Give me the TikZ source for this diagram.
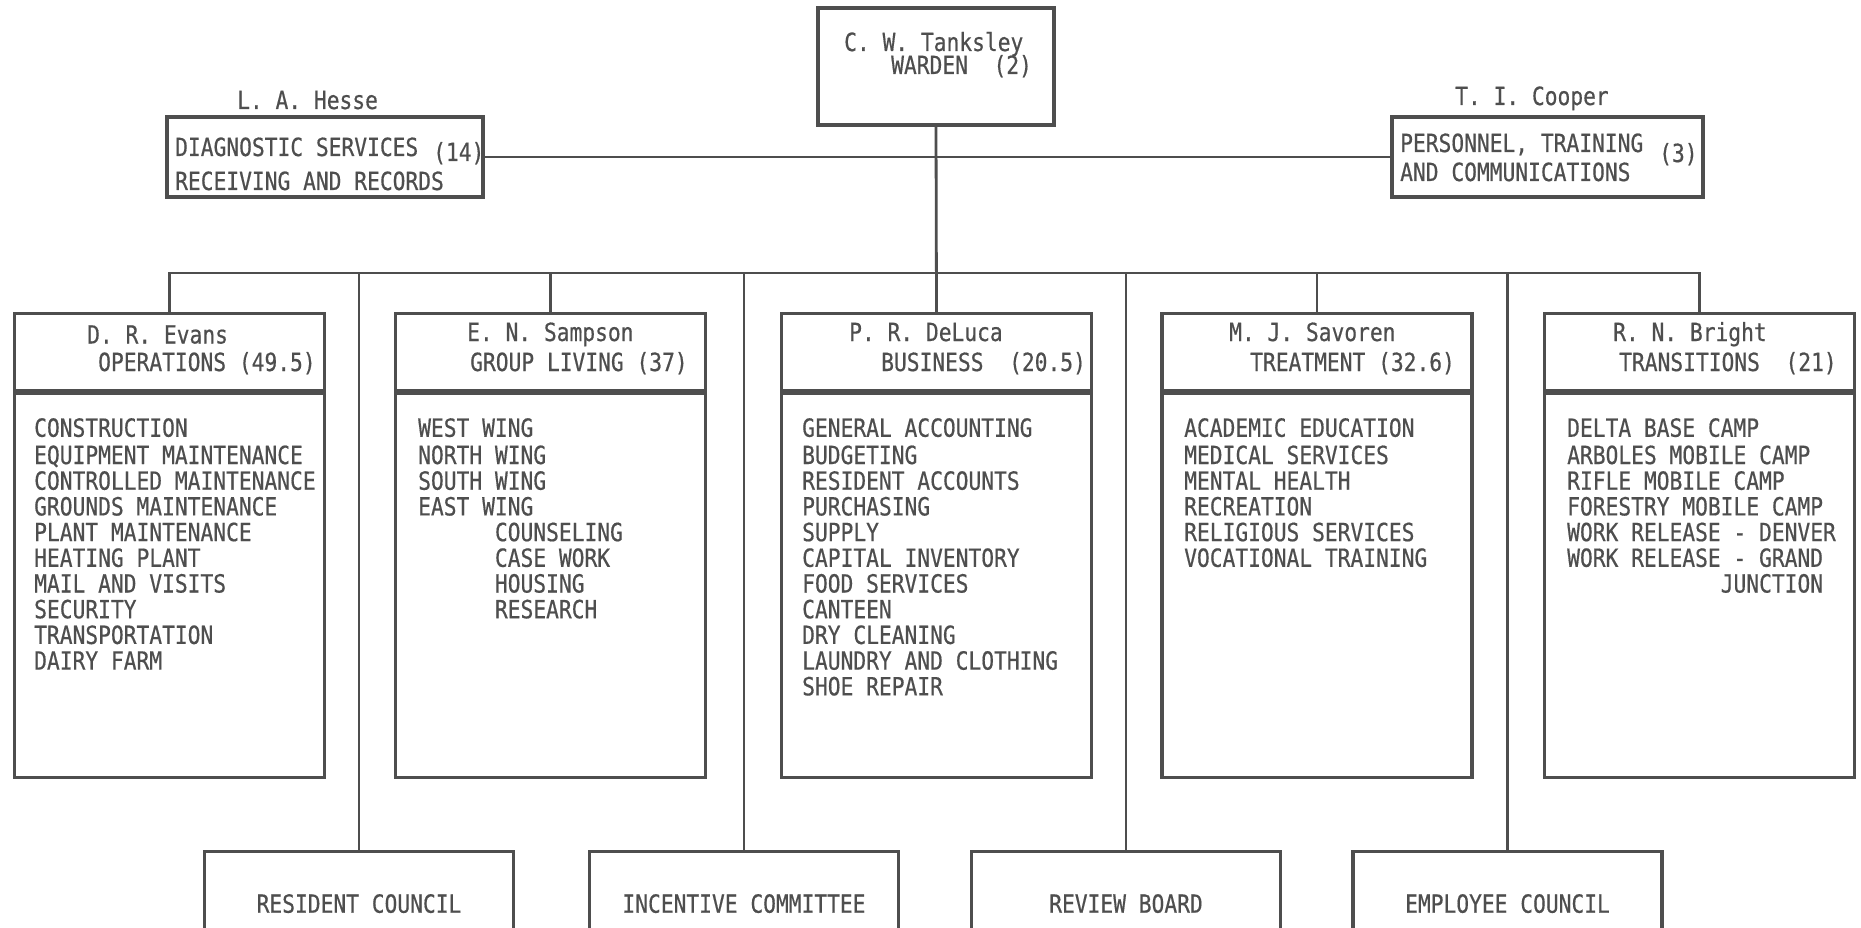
\documentclass[tikz,border=0pt]{standalone}
\usepackage{fontspec}
\usepackage{tikz}
\usetikzlibrary{positioning}
\newfontfamily\typer{DejaVu Sans Mono}[FakeStretch=0.85, FakeBold=0.5]
\definecolor{ink}{RGB}{78,78,78}

\begin{document}
\begin{tikzpicture}[
    x=1pt, y=-1pt,
    box/.style={draw=ink, line width=3.2pt, inner sep=0pt},
    wire/.style={draw=ink, line width=2.8pt},
    txt/.style={inner sep=0pt, anchor=base west, text=ink,
      font={\fontsize{25}{25.7}\typer}},
    list/.style={txt, anchor=north west, align=left},
    head/.style={box, minimum width=310pt, minimum height=77pt, anchor=north},
    body/.style={box, minimum width=310pt, minimum height=384pt, anchor=north},
    comm/.style={box, minimum width=309pt, minimum height=104pt, anchor=north,
      text=ink, font={\fontsize{25}{25.7}\typer}}
  ]
  \path[use as bounding box, fill=white] (0,0) rectangle (1861,928);
  \clip (0,0) rectangle (1861,928);

  % top of the chart
  \node[box, minimum width=236pt, minimum height=117pt] (warden) at (936,66.5) {};
  \node[txt] (wardenName) at (844,51) {C. W. Tanksley};
  \node[txt] (wardenTitle) at (891,74) {WARDEN~~(2)};

  \node[txt] (hesseName) at (237,109) {L. A. Hesse};
  \node[box, minimum width=316pt, minimum height=80pt] (hesse) at (325,157) {};
  \node[txt] (hesseA) at (175,156) {DIAGNOSTIC SERVICES};
  \node[txt] (hesseB) at (175,190) {RECEIVING AND RECORDS};
  \node[txt] (hesseN) at (433,161) {(14)};

  \node[txt] (cooperName) at (1455,105) {T. I. Cooper};
  \node[box, minimum width=311pt, minimum height=80pt] (cooper) at (1547.5,157) {};
  \node[txt] (cooperA) at (1400,152) {PERSONNEL, TRAINING};
  \node[txt] (cooperB) at (1400,181) {AND COMMUNICATIONS};
  \node[txt] (cooperN) at (1659,162) {(3)};

  % divisions
  \node[head] (evHead) at (169.5,312) {};
  \node[body] (evBody) at (evHead.south) {};
  \node[txt] (evName) at (87,343.5) {D. R. Evans};
  \node[txt] (evTitle) at (98,371) {OPERATIONS (49.5)};
  \node[list] (evList) at (34,418) {\strut CONSTRUCTION\\EQUIPMENT MAINTENANCE\\
    CONTROLLED MAINTENANCE\\GROUNDS MAINTENANCE\\PLANT MAINTENANCE\\HEATING PLANT\\
    MAIL AND VISITS\\SECURITY\\TRANSPORTATION\\DAIRY FARM};

  \node[head] (saHead) at (550.5,312) {};
  \node[body] (saBody) at (saHead.south) {};
  \node[txt] (saName) at (467,341) {E. N. Sampson};
  \node[txt] (saTitle) at (470,371) {GROUP LIVING (37)};
  \node[list] (saList) at (418,418) {\strut WEST WING\\NORTH WING\\SOUTH WING\\EAST WING\\
    ~~~~~~COUNSELING\\~~~~~~CASE WORK\\~~~~~~HOUSING\\~~~~~~RESEARCH};

  \node[head] (dlHead) at (936.5,312) {};
  \node[body] (dlBody) at (dlHead.south) {};
  \node[txt] (dlName) at (849,341) {P. R. DeLuca};
  \node[txt] (dlTitle) at (881,371) {BUSINESS~~(20.5)};
  \node[list] (dlList) at (802,418) {\strut GENERAL ACCOUNTING\\BUDGETING\\RESIDENT ACCOUNTS\\
    PURCHASING\\SUPPLY\\CAPITAL INVENTORY\\FOOD SERVICES\\CANTEEN\\DRY CLEANING\\
    LAUNDRY AND CLOTHING\\SHOE REPAIR};

  \node[head] (svHead) at (1317,312) {};
  \node[body] (svBody) at (svHead.south) {};
  \node[txt] (svName) at (1229,341) {M. J. Savoren};
  \node[txt] (svTitle) at (1250,371) {TREATMENT (32.6)};
  \node[list] (svList) at (1184,418) {\strut ACADEMIC EDUCATION\\MEDICAL SERVICES\\
    MENTAL HEALTH\\RECREATION\\RELIGIOUS SERVICES\\VOCATIONAL TRAINING};

  \node[head] (brHead) at (1699.5,312) {};
  \node[body] (brBody) at (brHead.south) {};
  \node[txt] (brName) at (1613,341) {R. N. Bright};
  \node[txt] (brTitle) at (1619,371) {TRANSITIONS~~(21)};
  \node[list] (brList) at (1567,418) {\strut DELTA BASE CAMP\\ARBOLES MOBILE CAMP\\
    RIFLE MOBILE CAMP\\FORESTRY MOBILE CAMP\\WORK RELEASE - DENVER\\
    WORK RELEASE - GRAND\\~~~~~~~~~~~~JUNCTION};

  % committees
  \node[comm] (resident) at (359,850) {RESIDENT COUNCIL};
  \node[comm] (incentive) at (744,850) {INCENTIVE COMMITTEE};
  \node[comm] (review) at (1126,850) {REVIEW BOARD};
  \node[comm] (employee) at (1507.5,850) {EMPLOYEE COUNCIL};

  \coordinate (bus) at (0,273);

  \draw[wire] (hesse.east) -- (cooper.west);
  \draw[wire] (warden.south) -- (dlHead.north);
  \draw[wire] (evHead.north) -- (evHead.north |- bus) -- (brHead.north |- bus) -- (brHead.north);
  \draw[wire] (saHead.north) -- (saHead.north |- bus);
  \draw[wire] (svHead.north) -- (svHead.north |- bus);

  \draw[wire] (resident.north) -- (resident.north |- bus);
  \draw[wire] (incentive.north) -- (incentive.north |- bus);
  \draw[wire] (review.north) -- (review.north |- bus);
  \draw[wire] (employee.north) -- (employee.north |- bus);

\end{tikzpicture}
\end{document}
